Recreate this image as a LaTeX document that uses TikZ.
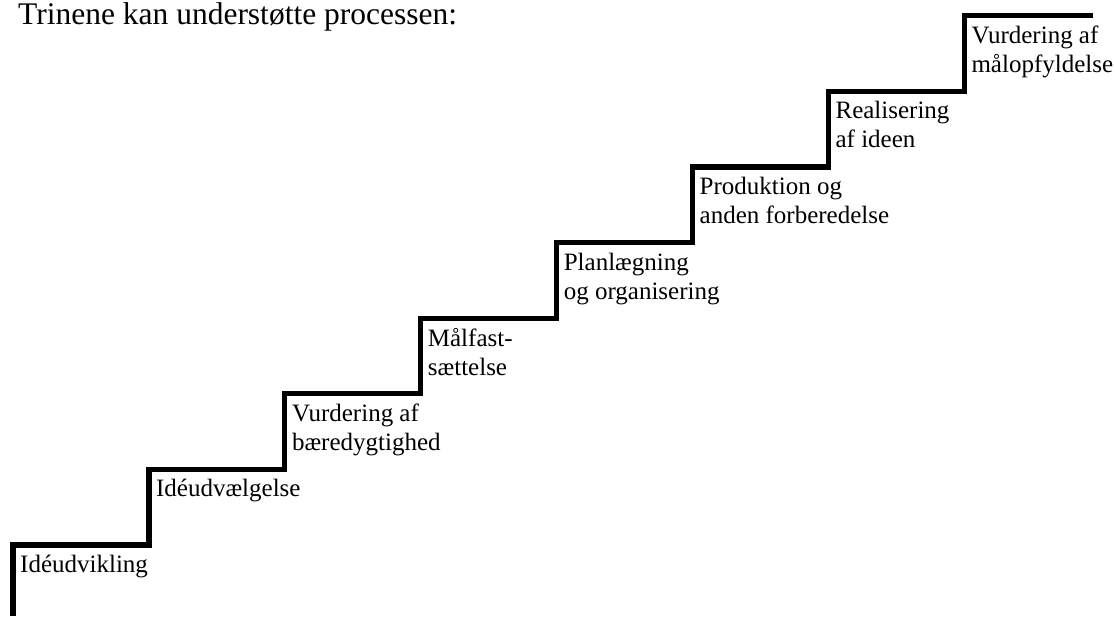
\documentclass[tikz,border=0pt]{standalone}
\usepackage{fontspec}
\setmainfont{Liberation Serif}
\usetikzlibrary{positioning}

\begin{document}
\begin{tikzpicture}[x=1pt,y=1pt,
    steplabel/.style={anchor=north west, inner sep=0pt, align=left,
                      font=\fontsize{25}{29}\selectfont}]
  \useasboundingbox (0,0) rectangle (1115,616);
  % Title
  \node[anchor=base west, inner sep=0pt, font=\fontsize{31.5}{36}\selectfont]
    (title) at (18,591) {Trinene kan understøtte processen:};
  % Staircase
  \draw[line width=5.2pt, line join=miter] (13,0) -- (13,71)
    \foreach \i in {1,...,7} { -- ++(135.9,0) -- ++(0,75.6) } -- ++(129,0);
  % Step labels
  \foreach \txt [count=\i from 0] in {Idéudvikling, Idéudvælgelse,
      {Vurdering af\\bæredygtighed}, {Målfast-\\sættelse},
      {Planlægning\\og organisering}, {Produktion og\\anden forberedelse},
      {Realisering\\af ideen}, {Vurdering af\\målopfyldelse}}
    \node[steplabel] (lbl\i) at (13+\i*135.9+7, 71+\i*75.6-10) {\txt};
\end{tikzpicture}
\end{document}
